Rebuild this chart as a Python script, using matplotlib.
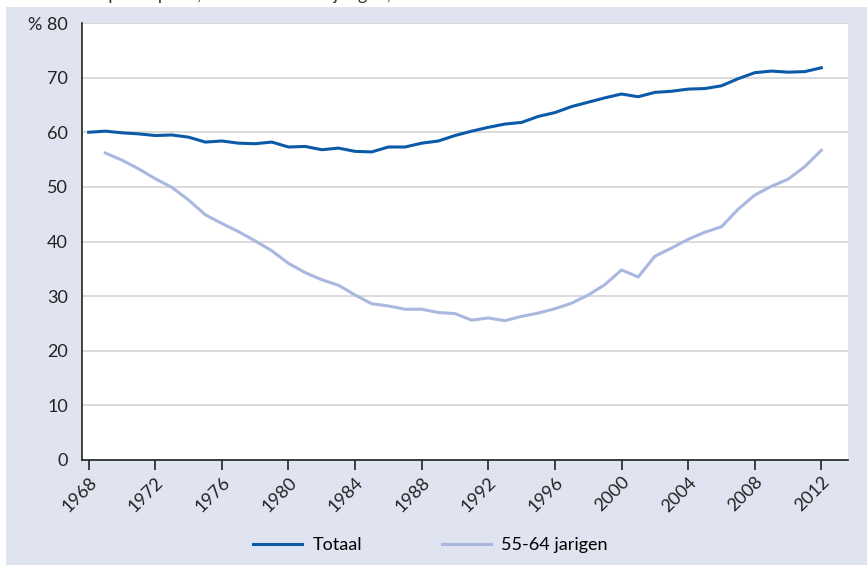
import numpy as np
import matplotlib.pyplot as plt
from matplotlib.patches import Rectangle

# Data (percent)
years = list(range(1968, 2013))
totaal = [60.0, 60.2, 59.9, 59.7, 59.4, 59.5, 59.1, 58.2, 58.4, 58.0,
          57.9, 58.2, 57.3, 57.4, 56.8, 57.1, 56.5, 56.4, 57.3, 57.3,
          58.0, 58.4, 59.4, 60.2, 60.9, 61.5, 61.8, 62.9, 63.6, 64.7,
          65.5, 66.3, 67.0, 66.5, 67.3, 67.5, 67.9, 68.0, 68.5, 69.8,
          70.9, 71.2, 71.0, 71.1, 71.8]
years_oud = list(range(1969, 2013))
jarigen_55_64 = [56.2, 54.9, 53.3, 51.5, 49.9, 47.6, 44.9, 43.3, 41.8, 40.1,
                 38.3, 36.0, 34.3, 33.0, 32.0, 30.2, 28.6, 28.2, 27.6, 27.6,
                 27.0, 26.8, 25.6, 26.0, 25.5, 26.3, 26.9, 27.7, 28.7, 30.2,
                 32.1, 34.8, 33.5, 37.3, 38.8, 40.4, 41.7, 42.7, 45.9, 48.5,
                 50.1, 51.4, 53.7, 56.7]
xticks = list(range(1968, 2013, 4))
yticks = [0, 10, 20, 30, 40, 50, 60, 70, 80]
ylabels = ['0', '10', '20', '30', '40', '50', '60', '70', '% 80']

plt.rcParams['font.family'] = ['Liberation Sans Narrow', 'Lato', 'DejaVu Sans']

bg = '#e0e4f1'
fig = plt.figure(figsize=(8.67, 5.65), dpi=100)
fig.patch.set_facecolor('white')
panel = Rectangle((6 / 867, 0), 1, 1 - 7 / 565, transform=fig.transFigure,
                  facecolor=bg, edgecolor='none', zorder=-10)
fig.patches.append(panel)

# caption at the very top, cut off by the edge as in the source
fig.text(0.0, 1 + 5 / 565, 'Netto arbeidsparticipatie, totaal en 55-64 jarigen, 1969-2012',
         fontsize=13, color='#333333', va='center', ha='left', zorder=5)

ax = fig.add_axes([82 / 867, 1 - 460 / 565, (848 - 82) / 867, (460 - 23) / 565])
ax.set_zorder(2)
ax.set_facecolor('white')

ax.plot(years, totaal, color='#0b5aa8', lw=2.2, label='Totaal', zorder=3)
ax.plot(years_oud, jarigen_55_64, color='#aab8e0', lw=2.2, label='55-64 jarigen', zorder=3)

ax.set_xlim(1967.6, 2013.6)
ax.set_ylim(0, 80)
ax.set_yticks(yticks)
ax.set_yticklabels(ylabels)
ax.set_xticks(xticks)
ax.set_xticklabels([str(x) for x in xticks], rotation=45, ha='right', rotation_mode='anchor')
ax.yaxis.grid(True, color='#d4d4d4', lw=1.2)
ax.set_axisbelow(True)

ax.tick_params(axis='y', length=0, pad=10, labelsize=13, colors='#222222')
ax.tick_params(axis='x', direction='out', length=7, width=1.2, pad=3, labelsize=13,
               colors='#222222')
for s in ['top', 'right']:
    ax.spines[s].set_visible(False)
for s in ['left', 'bottom']:
    ax.spines[s].set_color('#222222')
    ax.spines[s].set_linewidth(1.2)

ax.legend(loc='upper center', bbox_to_anchor=(0.5 - 0.045, -0.14), ncol=2, frameon=False,
          fontsize=13, handlelength=2.7, columnspacing=4.4, handletextpad=0.6)

plt.savefig('out.png', dpi=100, facecolor=fig.get_facecolor())
